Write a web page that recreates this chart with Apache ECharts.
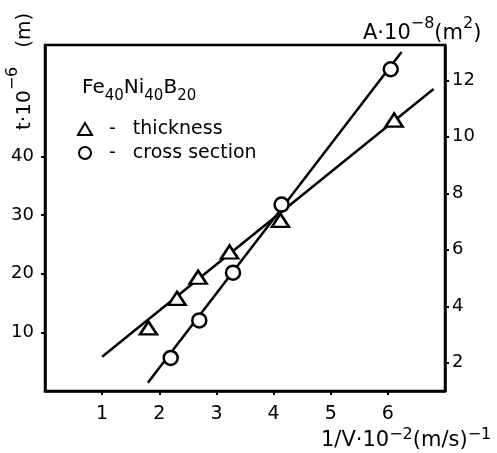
<!DOCTYPE html>
<html><head><meta charset="utf-8">
<script src="https://cdn.jsdelivr.net/npm/echarts@6/dist/echarts.min.js"></script>
<style>html,body{margin:0;padding:0;background:#fff}#c{width:497px;height:453px}</style>
</head><body><div id="c"></div>
<script>
// Data
const thickX = [1.81, 2.31, 2.68, 3.23, 4.12, 6.11];
const thickT = [10.75, 15.8, 19.4, 23.7, 29.1, 46.2];
const crossX = [2.20, 2.70, 3.29, 4.14, 6.05];
const crossA = [2.17, 3.50, 5.19, 7.60, 12.39];
const thickFitX = [1.0, 6.8];
const thickFitT = [5.85, 51.5];
const crossFitX = [1.8, 6.24];
const crossFitA = [1.29, 13.0];
const xTicks = [1, 2, 3, 4, 5, 6];
const leftTicks = [10, 20, 30, 40];
const rightTicks = [2, 4, 6, 8, 10, 12];

const FF = 'DejaVu Sans';
const pairs = (xs, ys) => xs.map((x, i) => [x, ys[i]]);
const chart = echarts.init(document.getElementById('c'));
const axisCommon = {
  axisLine: { show: true, lineStyle: { color: '#000', width: 2.5 } },
  axisTick: { show: true, inside: false, length: 4, lineStyle: { color: '#000', width: 2 } },
  splitLine: { show: false },
  axisLabel: { color: '#000', fontFamily: FF, fontSize: 18 }
};
function supRich(mainSize, supSize, lh) {
  return {
    m: { fontFamily: FF, fontSize: mainSize, fill: '#000', lineHeight: lh, verticalAlign: 'bottom' },
    p: { fontFamily: FF, fontSize: supSize, fill: '#000', lineHeight: lh, verticalAlign: 'top' }
  };
}
chart.setOption({
  animation: false,
  backgroundColor: '#fff',
  grid: { left: 45, right: 52, top: 45, bottom: 62, show: true, borderColor: '#000', borderWidth: 2.5, backgroundColor: 'transparent' },
  title: {
    text: '{a|Fe}{s|40}{a|Ni}{s|40}{a|B}{s|20}',
    left: 82, top: 78, padding: 0,
    textStyle: {
      fontWeight: 'normal',
      rich: {
        a: { fontFamily: FF, fontSize: 20, fontWeight: 'normal', color: '#000', lineHeight: 26, verticalAlign: 'top' },
        s: { fontFamily: FF, fontSize: 15, fontWeight: 'normal', color: '#000', lineHeight: 26, verticalAlign: 'bottom' }
      }
    }
  },
  legend: {
    orient: 'vertical', left: 77, top: 119, padding: 0,
    data: ['thickness', 'cross section'],
    itemWidth: 14, itemHeight: 12, itemGap: 4,
    formatter: n => '{d|-}{t|' + n + '}',
    textStyle: {
      color: '#000', fontFamily: FF, fontSize: 19, lineHeight: 20,
      rich: {
        d: { fontFamily: FF, fontSize: 19, color: '#000', padding: [0, 17, 0, 12] },
        t: { fontFamily: FF, fontSize: 19, color: '#000' }
      }
    }
  },
  xAxis: Object.assign({}, axisCommon, {
    type: 'value', min: 0, max: 7, position: 'bottom',
    axisLabel: Object.assign({}, axisCommon.axisLabel, { margin: 14, customValues: xTicks, fontSize: 19 }),
    axisTick: Object.assign({}, axisCommon.axisTick, { customValues: xTicks })
  }),
  yAxis: [
    Object.assign({}, axisCommon, {
      type: 'value', min: 0, max: 59, position: 'left',
      axisLabel: Object.assign({}, axisCommon.axisLabel, { margin: 11, customValues: leftTicks }),
      axisTick: Object.assign({}, axisCommon.axisTick, { customValues: leftTicks })
    }),
    Object.assign({}, axisCommon, {
      type: 'value', min: 1, max: 13.25, position: 'right',
      axisLabel: Object.assign({}, axisCommon.axisLabel, { margin: 7, customValues: rightTicks }),
      axisTick: Object.assign({}, axisCommon.axisTick, { customValues: rightTicks })
    })
  ],
  series: [
    { name: 'thickness fit', type: 'line', yAxisIndex: 0, data: pairs(thickFitX, thickFitT), symbol: 'none', lineStyle: { color: '#000', width: 2.5 }, z: 1 },
    { name: 'cross section fit', type: 'line', yAxisIndex: 1, data: pairs(crossFitX, crossFitA), symbol: 'none', lineStyle: { color: '#000', width: 2.5 }, z: 1 },
    { name: 'thickness', type: 'scatter', yAxisIndex: 0, data: pairs(thickX, thickT), symbol: 'triangle', symbolSize: [17, 13],
      itemStyle: { color: '#fff', borderColor: '#000', borderWidth: 2.5, opacity: 1 }, z: 3 },
    { name: 'cross section', type: 'scatter', yAxisIndex: 1, data: pairs(crossX, crossA), symbol: 'circle', symbolSize: 14,
      itemStyle: { color: '#fff', borderColor: '#000', borderWidth: 2.5, opacity: 1 }, z: 3 }
  ],
  graphic: [
    { type: 'text', x: 363, y: 16, z: 10,
      style: { text: '{m|A·10}{p|−8}{m|(m}{p|2}{m|)}', fill: '#000', rich: supRich(21, 16, 28.5) } },
    { type: 'text', x: 321, y: 426.5, z: 10,
      style: { text: '{m|1/V·10}{p|−2}{m|(m/s)}{p|−1}', fill: '#000', rich: supRich(21, 16, 24.5) } },
    { type: 'text', x: 5, y: 130, rotation: Math.PI / 2, z: 10,
      style: { text: '{m|t·10}{p|−6}{m|   (m)}', fill: '#000', rich: supRich(20, 16, 30) } }
  ]
});
</script></body></html>
